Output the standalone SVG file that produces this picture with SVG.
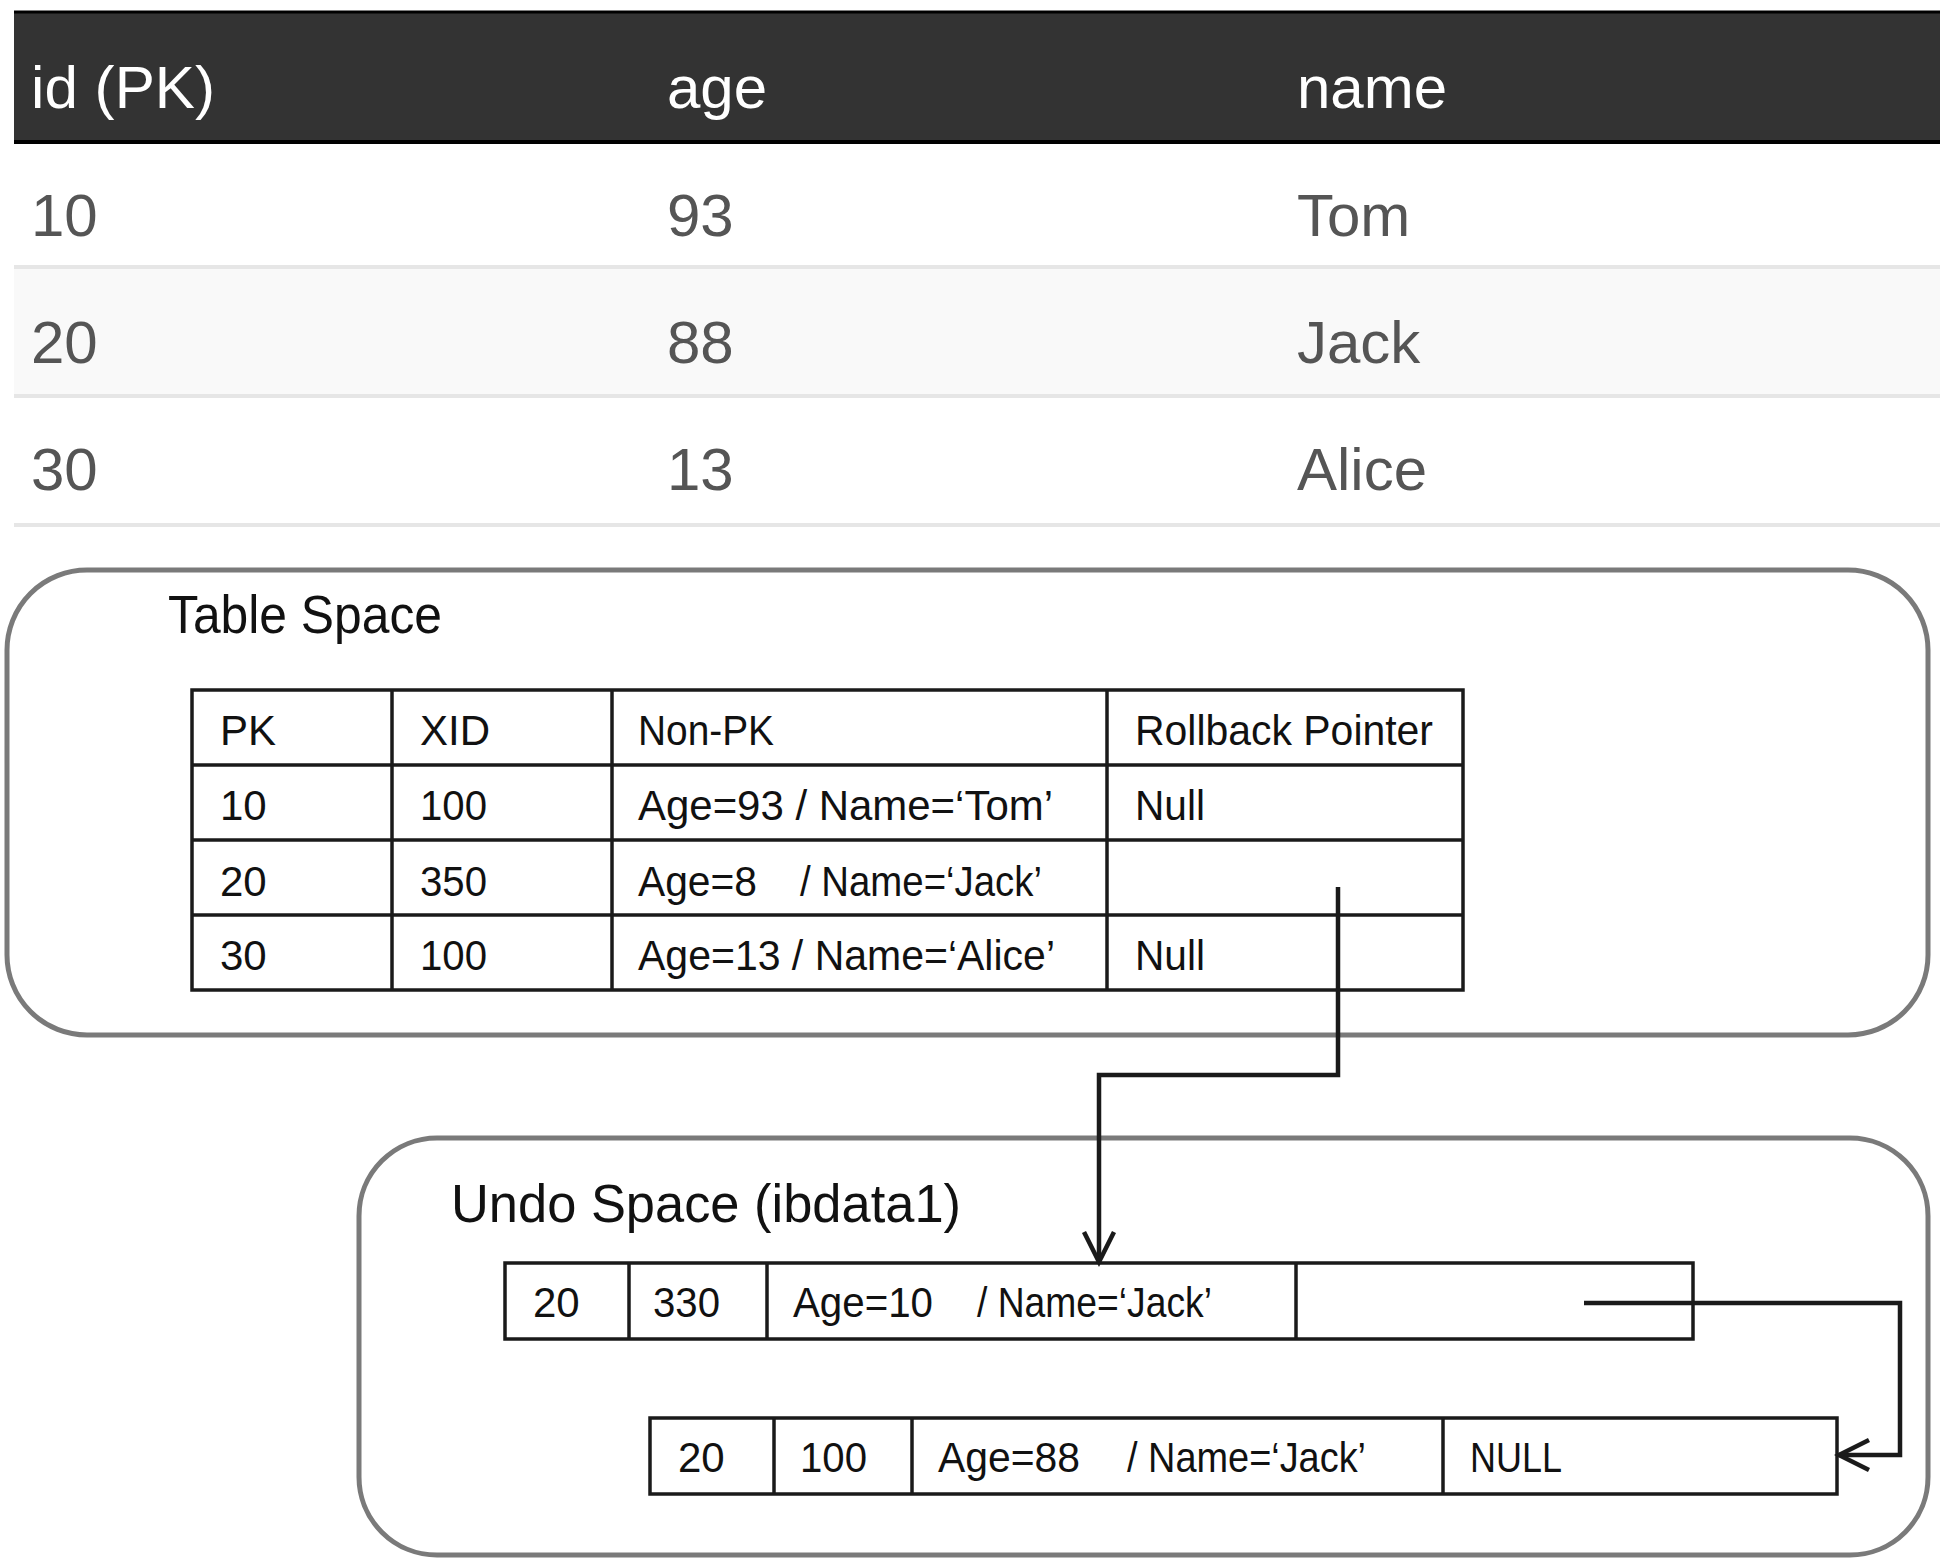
<svg xmlns="http://www.w3.org/2000/svg" width="1953" height="1559" viewBox="0 0 1953 1559">
<defs>
<style>
.big{font-family:"Liberation Sans",Arial,sans-serif;font-size:60px;fill:#555}
.hdr{font-family:"Liberation Sans",Arial,sans-serif;font-size:60px;fill:#fff}
.lbl{font-family:"Liberation Sans",Arial,sans-serif;font-size:53px;fill:#111}
.cell{font-family:"Liberation Sans",Arial,sans-serif;font-size:42px;fill:#111}
.sep{stroke:#e6e6e6;stroke-width:4}
.box{fill:none;stroke:#7a7a7a;stroke-width:5}
.grid{fill:none;stroke:#1a1a1a;stroke-width:3.5}
.conn{fill:none;stroke:#1a1a1a;stroke-width:4.5;stroke-linejoin:miter}
</style>
<marker id="arr" markerWidth="40" markerHeight="40" viewBox="-32 -18 40 36" refX="0" refY="0" orient="auto" markerUnits="userSpaceOnUse">
<path d="M-30,-15 L0,0 L-30,15" fill="none" stroke="#1a1a1a" stroke-width="4.5"/>
</marker>
</defs>
<rect width="1953" height="1559" fill="#fff"/>

<g id="main-table">
<rect x="14" y="11" width="1926" height="132" fill="#333"/>
<line x1="14" y1="12" x2="1940" y2="12" stroke="#000" stroke-width="3"/>
<line x1="14" y1="142" x2="1940" y2="142" stroke="#000" stroke-width="4"/>
<rect x="14" y="269" width="1926" height="126" fill="#f9f9f9"/>
<line class="sep" x1="14" y1="267" x2="1940" y2="267"/>
<line class="sep" x1="14" y1="396" x2="1940" y2="396"/>
<line class="sep" x1="14" y1="525" x2="1940" y2="525"/>
<text class="hdr" x="31" y="108" textLength="184" lengthAdjust="spacingAndGlyphs">id (PK)</text>
<text class="hdr" x="667" y="108">age</text>
<text class="hdr" x="1297" y="108">name</text>
<text class="big" x="31" y="236">10</text>
<text class="big" x="667" y="236">93</text>
<text class="big" x="1297" y="236">Tom</text>
<text class="big" x="31" y="363">20</text>
<text class="big" x="667" y="363">88</text>
<text class="big" x="1297" y="363">Jack</text>
<text class="big" x="31" y="490">30</text>
<text class="big" x="667" y="490">13</text>
<text class="big" x="1297" y="490">Alice</text>
</g>

<g id="table-space">
<rect class="box" x="7" y="570" width="1921" height="465" rx="80" ry="80"/>
<text class="lbl" x="168" y="633" textLength="274" lengthAdjust="spacingAndGlyphs">Table Space</text>
<g id="ts-table">
<rect class="grid" x="192" y="690" width="1271" height="300"/>
<line class="grid" x1="192" y1="765" x2="1463" y2="765"/>
<line class="grid" x1="192" y1="840" x2="1463" y2="840"/>
<line class="grid" x1="192" y1="915" x2="1463" y2="915"/>
<line class="grid" x1="392" y1="690" x2="392" y2="990"/>
<line class="grid" x1="612" y1="690" x2="612" y2="990"/>
<line class="grid" x1="1107" y1="690" x2="1107" y2="990"/>
<text class="cell" x="220" y="745">PK</text>
<text class="cell" x="420" y="745">XID</text>
<text class="cell" x="638" y="745" textLength="136" lengthAdjust="spacingAndGlyphs">Non-PK</text>
<text class="cell" x="1135" y="745" textLength="298" lengthAdjust="spacingAndGlyphs">Rollback Pointer</text>
<text class="cell" x="220" y="820">10</text>
<text class="cell" x="420" y="820" textLength="67" lengthAdjust="spacingAndGlyphs">100</text>
<text class="cell" x="638" y="820" textLength="415" lengthAdjust="spacingAndGlyphs">Age=93 / Name=‘Tom’</text>
<text class="cell" x="1135" y="820" textLength="70" lengthAdjust="spacingAndGlyphs">Null</text>
<text class="cell" x="220" y="896">20</text>
<text class="cell" x="420" y="896" textLength="67" lengthAdjust="spacingAndGlyphs">350</text>
<text class="cell" x="638" y="896"><tspan textLength="119" lengthAdjust="spacingAndGlyphs">Age=8</tspan><tspan x="800" textLength="242" lengthAdjust="spacingAndGlyphs">/ Name=‘Jack’</tspan></text>
<text class="cell" x="220" y="970">30</text>
<text class="cell" x="420" y="970" textLength="67" lengthAdjust="spacingAndGlyphs">100</text>
<text class="cell" x="638" y="970" textLength="417" lengthAdjust="spacingAndGlyphs">Age=13 / Name=‘Alice’</text>
<text class="cell" x="1135" y="970" textLength="70" lengthAdjust="spacingAndGlyphs">Null</text>
</g>
</g>

<g id="undo-space">
<rect class="box" x="359" y="1138" width="1569" height="417" rx="78" ry="78"/>
<text class="lbl" x="451" y="1222" textLength="510" lengthAdjust="spacingAndGlyphs">Undo Space (ibdata1)</text>
</g>

<g id="undo-row-1">
<rect class="grid" x="505" y="1263" width="1188" height="76"/>
<line class="grid" x1="629" y1="1263" x2="629" y2="1339"/>
<line class="grid" x1="767" y1="1263" x2="767" y2="1339"/>
<line class="grid" x1="1296" y1="1263" x2="1296" y2="1339"/>
<text class="cell" x="533" y="1317">20</text>
<text class="cell" x="653" y="1317" textLength="67" lengthAdjust="spacingAndGlyphs">330</text>
<text class="cell" x="793" y="1317"><tspan textLength="140" lengthAdjust="spacingAndGlyphs">Age=10</tspan><tspan x="977" textLength="235" lengthAdjust="spacingAndGlyphs">/ Name=‘Jack’</tspan></text>
</g>

<g id="undo-row-2">
<rect class="grid" x="650" y="1418" width="1187" height="76"/>
<line class="grid" x1="774" y1="1418" x2="774" y2="1494"/>
<line class="grid" x1="912" y1="1418" x2="912" y2="1494"/>
<line class="grid" x1="1443" y1="1418" x2="1443" y2="1494"/>
<text class="cell" x="678" y="1472">20</text>
<text class="cell" x="800" y="1472" textLength="67" lengthAdjust="spacingAndGlyphs">100</text>
<text class="cell" x="938" y="1472"><tspan textLength="142" lengthAdjust="spacingAndGlyphs">Age=88</tspan><tspan x="1127" textLength="239" lengthAdjust="spacingAndGlyphs">/ Name=‘Jack’</tspan></text>
<text class="cell" x="1470" y="1472" textLength="92" lengthAdjust="spacingAndGlyphs">NULL</text>
</g>

<g id="connectors">
<path class="conn" d="M1338,887 L1338,1075 L1099,1075 L1099,1262" marker-end="url(#arr)"/>
<path class="conn" d="M1584,1303 L1900,1303 L1900,1455 L1839,1455" marker-end="url(#arr)"/>
</g>
</svg>
